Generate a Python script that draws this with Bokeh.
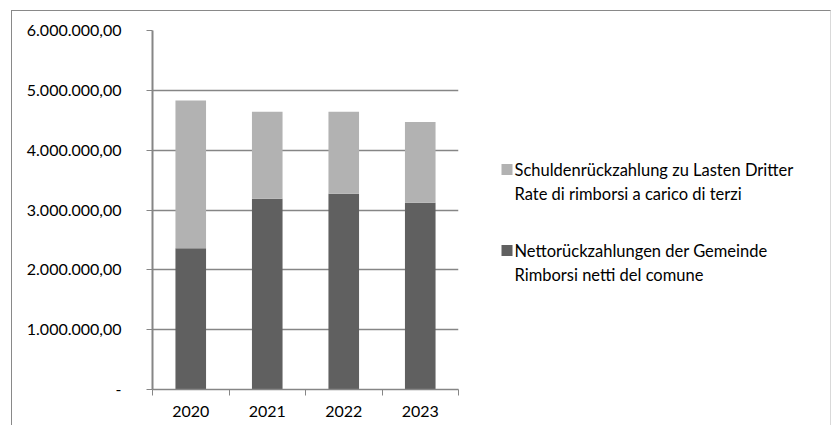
from bokeh.plotting import figure
from bokeh.layouts import row
from bokeh.models import Range1d, FixedTicker, ColumnDataSource
from bokeh.core.properties import value
from bokeh.embed import file_html
from bokeh.resources import INLINE

# ---- data ----
years = ["2020", "2021", "2022", "2023"]
net_repayments = [2360000, 3190000, 3270000, 3120000]      # Nettorückzahlungen der Gemeinde
third_party = [2470000, 1450000, 1370000, 1350000]         # Schuldenrückzahlung zu Lasten Dritter
y_ticks = [0, 1000000, 2000000, 3000000, 4000000, 5000000, 6000000]
y_tick_labels = ["-", "1.000.000,00", "2.000.000,00", "3.000.000,00",
                 "4.000.000,00", "5.000.000,00", "6.000.000,00"]
label_third = ["Schuldenrückzahlung zu Lasten Dritter", "Rate di rimborsi a carico di terzi"]
label_net = ["Nettorückzahlungen der Gemeinde", "Rimborsi netti del comune"]

DARK = "#606060"
LIGHT = "#b2b2b2"
AXIS = "#868686"
FONT = "Lato"
FS = "16px"
LFS = "16.5px"
H = 414
TOP = 19
BOT = 378

x_pos = [i + 0.5 for i in range(len(years))]
source = ColumnDataSource(dict(x=x_pos, net=net_repayments, third=third_party))

p = figure(width=466, height=H,
           x_range=Range1d(0, len(years)), y_range=Range1d(0, y_ticks[-1]),
           output_backend="svg", toolbar_location=None,
           min_border_left=140, min_border_top=TOP,
           min_border_right=20, min_border_bottom=H - BOT)
p.background_fill_color = "white"
p.border_fill_color = "white"
p.outline_line_color = None

p.vbar_stack(["net", "third"], x="x", width=0.4, color=[DARK, LIGHT],
             line_color=None, source=source)

# x axis: labels at category centres, tick marks between categories
xa = p.xaxis[0]
xa.ticker = FixedTicker(ticks=x_pos, minor_ticks=list(range(len(years) + 1)))
xa.major_label_overrides = {xv: yr for xv, yr in zip(x_pos, years)}
xa.major_tick_line_color = None
xa.major_tick_out = 0
xa.major_tick_in = 0
xa.minor_tick_line_color = AXIS
xa.minor_tick_out = 6
xa.minor_tick_in = 0
xa.axis_line_color = AXIS
xa.axis_line_width = 1.5
xa.major_label_standoff = 10
xa.major_label_text_font = FONT
xa.major_label_text_font_size = FS
xa.major_label_text_color = "#000000"

# y axis
ya = p.yaxis[0]
ya.ticker = FixedTicker(ticks=y_ticks)
ya.major_label_overrides = {t: s for t, s in zip(y_ticks, y_tick_labels)}
ya.major_tick_line_color = AXIS
ya.major_tick_out = 6
ya.major_tick_in = 0
ya.minor_tick_line_color = None
ya.axis_line_color = AXIS
ya.axis_line_width = 2
ya.major_label_standoff = 25
ya.major_label_text_font = FONT
ya.major_label_text_font_size = FS
ya.major_label_text_color = "#000000"

p.xgrid.visible = False
p.ygrid.ticker = FixedTicker(ticks=y_ticks)
p.ygrid.grid_line_color = AXIS
p.ygrid.grid_line_width = 1.5

# ---- legend panel (frame aligned with the chart frame, pixel coordinates) ----
LW = 352
q = figure(width=LW, height=H, x_range=Range1d(0, LW), y_range=Range1d(BOT, TOP),
           x_axis_type=None, y_axis_type=None, output_backend="svg",
           toolbar_location=None, min_border_left=0, min_border_right=0,
           min_border_top=TOP, min_border_bottom=H - BOT)
q.grid.visible = False
q.outline_line_color = None
q.background_fill_color = "white"
q.border_fill_color = "white"

entries = [(label_third, LIGHT, 158), (label_net, DARK, 239)]
for lines, color, yc in entries:
    q.rect(x=[28.5], y=[yc], width=11, height=11, fill_color=color, line_color=None)
    q.text(x=[36] * len(lines), y=[yc + 24 * k for k in range(len(lines))], text=lines,
           text_font=value(FONT), text_font_size=value(LFS), text_color="#000000",
           text_baseline="middle", text_align="left")

layout = row(p, q)
layout.styles = {"margin-left": "11px", "margin-top": "10px",
                 "border-top": "1px solid #898989", "border-left": "1px solid #898989",
                 "border-right": "1px solid #d9d9d9"}

open("out.html", "w").write(file_html(layout, INLINE))
